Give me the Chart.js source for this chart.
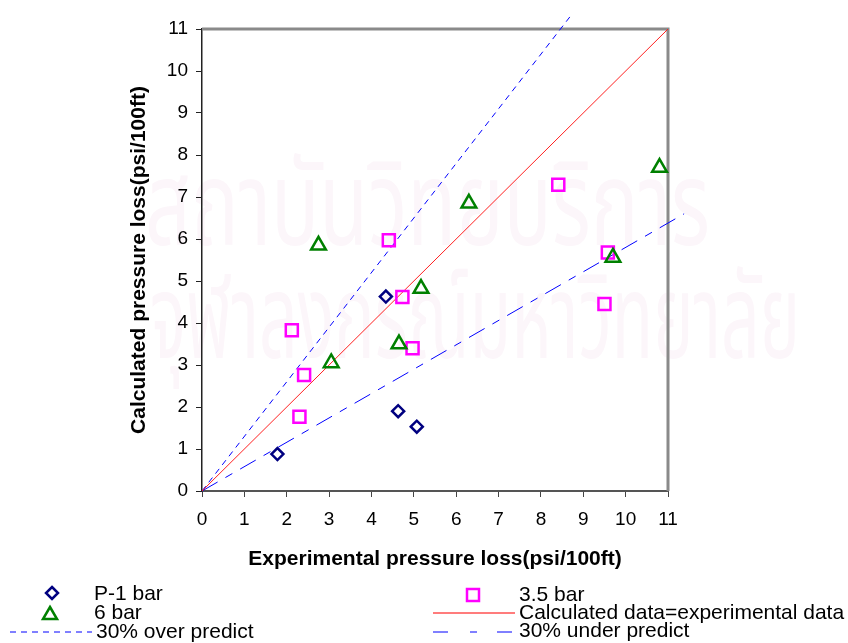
<!DOCTYPE html>
<html>
<head>
<meta charset="utf-8">
<script src="https://cdn.jsdelivr.net/npm/chart.js@4/dist/chart.umd.min.js"></script>
<style>
  html, body { margin: 0; padding: 0; background: #ffffff; }
  #wrap { position: relative; width: 848px; height: 643px; overflow: hidden; }
  #mark { position: absolute; left: 0; top: 0; width: 848px; height: 643px; pointer-events: none; }
  #chart { position: absolute; left: 0; top: 0; }
  #legend { position: absolute; left: 0; top: 0; pointer-events: none; }
</style>
</head>
<body>
<div id="wrap">
  <svg id="mark" width="848" height="643">
    <g fill="#fcf6fa" font-family="'Noto Sans Thai','Noto Sans','DejaVu Sans',sans-serif">
      <text x="145" y="245" font-size="118" textLength="565" lengthAdjust="spacingAndGlyphs">สถาบันวิทยบริการ</text>
      <text x="150" y="358" font-size="118" textLength="650" lengthAdjust="spacingAndGlyphs">จุฬาลงกรณ์มหาวิทยาลัย</text>
    </g>
  </svg>
  <canvas id="chart" width="848" height="643"></canvas>
  <svg id="legend" width="848" height="643" font-family="'Liberation Sans', Arial, sans-serif" font-size="21">
    <!-- left column -->
    <path d="M52 587 L58 593 L52 599 L46 593 Z" fill="none" stroke="#000080" stroke-width="2.5"/>
    <text x="94" y="600">P-1 bar</text>
    <path d="M50 607 L57 619 L43 619 Z" fill="none" stroke="#008000" stroke-width="2.5"/>
    <text x="94" y="619">6 bar</text>
    <line x1="10" y1="632" x2="92" y2="632" stroke="#0000ff" stroke-width="1" stroke-dasharray="6 5"/>
    <text x="96" y="638">30% over predict</text>
    <!-- right column -->
    <rect x="467" y="589" width="12" height="12" fill="none" stroke="#ff00ff" stroke-width="2.5"/>
    <text x="519" y="601">3.5 bar</text>
    <line x1="433" y1="613" x2="515" y2="613" stroke="#ff5050" stroke-width="1.5"/>
    <text x="519" y="619">Calculated data=experimental data</text>
    <line x1="433" y1="632" x2="515" y2="632" stroke="#0000ff" stroke-width="1" stroke-dasharray="15 22 7 20 15"/>
    <text x="519" y="637">30% under predict</text>
  </svg>
</div>
<script>
// Measured points: experimental (x) vs calculated (y) pressure loss, psi/100ft
const p1ExpX = [1.78, 4.63, 5.07, 4.34];
const p1CalcY = [0.88, 1.90, 1.53, 4.63];

const bar35ExpX = [2.12, 2.41, 2.30, 4.41, 4.73, 4.97, 8.41, 9.58, 9.50];
const bar35CalcY = [3.83, 2.76, 1.77, 5.97, 4.62, 3.40, 7.29, 5.68, 4.45];

const bar6ExpX = [2.75, 3.05, 4.65, 5.17, 6.30, 9.70, 10.80];
const bar6CalcY = [5.85, 3.05, 3.50, 4.82, 6.85, 5.56, 7.70];

// Reference lines
const equalX = [0, 11];
const equalY = [0, 11];
const overX = [0, 8.75];
const overY = [0, 11.375];
const underX = [0, 11.38];
const underY = [0, 6.6];

const axisTicks = [0, 1, 2, 3, 4, 5, 6, 7, 8, 9, 10, 11];

const pts = (xs, ys) => xs.map((x, i) => ({ x: x, y: ys[i] }));

const FONT = "'Liberation Sans', Arial, sans-serif";

// Gray frame on the top and right of the plot area
const framePlugin = {
  id: 'frame',
  beforeDatasetsDraw(chart) {
    const { ctx, chartArea: a } = chart;
    ctx.save();
    ctx.strokeStyle = '#8a8a8a';
    ctx.lineWidth = 3;
    ctx.beginPath();
    ctx.moveTo(a.left, a.top);
    ctx.lineTo(a.right, a.top);
    ctx.lineTo(a.right, a.bottom);
    ctx.stroke();
    ctx.restore();
  }
};

new Chart(document.getElementById('chart'), {
  type: 'scatter',
  data: {
    datasets: [
      {
        label: '6 bar',
        data: pts(bar6ExpX, bar6CalcY),
        pointStyle: 'triangle',
        pointRadius: 8.5,
        pointBorderWidth: 2.5,
        borderColor: '#008000',
        backgroundColor: 'rgba(0,0,0,0)',
        order: 1,
        clip: false
      },
      {
        label: 'P-1 bar',
        data: pts(p1ExpX, p1CalcY),
        pointStyle: 'rectRot',
        pointRadius: 6,
        pointBorderWidth: 2.5,
        borderColor: '#000080',
        backgroundColor: 'rgba(0,0,0,0)',
        order: 2,
        clip: false
      },
      {
        label: '3.5 bar',
        data: pts(bar35ExpX, bar35CalcY),
        pointStyle: 'rect',
        pointRadius: 8.5,
        pointBorderWidth: 2.5,
        borderColor: '#ff00ff',
        backgroundColor: 'rgba(0,0,0,0)',
        order: 3,
        clip: false
      },
      {
        label: 'Calculated data=experimental data',
        data: pts(equalX, equalY),
        showLine: true,
        pointRadius: 0,
        borderColor: '#ff2020',
        borderWidth: 1,
        order: 10,
        clip: false
      },
      {
        label: '30% over predict',
        data: pts(overX, overY),
        showLine: true,
        pointRadius: 0,
        borderColor: '#0000ff',
        borderWidth: 1,
        borderDash: [6, 5],
        order: 11,
        clip: false
      },
      {
        label: '30% under predict',
        data: pts(underX, underY),
        showLine: true,
        pointRadius: 0,
        borderColor: '#0000ff',
        borderWidth: 1,
        borderDash: [18, 9, 8, 9],
        order: 12,
        clip: false
      }
    ]
  },
  options: {
    responsive: false,
    animation: false,
    devicePixelRatio: 1,
    layout: { padding: { left: 0, top: 29, right: 180, bottom: 0 } },
    plugins: {
      legend: { display: false },
      tooltip: { enabled: false }
    },
    scales: {
      x: {
        type: 'linear',
        min: 0,
        max: 11,
        afterBuildTicks(scale) { scale.ticks = axisTicks.map(v => ({ value: v })); },
        afterFit(scale) { scale.height = 152; },
        grid: { drawOnChartArea: false, drawTicks: true, tickLength: 6, tickColor: '#444' },
        border: { display: true, color: '#555', width: 2 },
        ticks: { color: '#000', padding: 11, maxRotation: 0, font: { family: FONT, size: 19 } },
        title: {
          display: true,
          text: 'Experimental pressure loss(psi/100ft)',
          color: '#000',
          font: { family: FONT, size: 21, weight: 'bold' },
          padding: { top: 0, bottom: 71 }
        }
      },
      y: {
        type: 'linear',
        min: 0,
        max: 11,
        afterBuildTicks(scale) { scale.ticks = axisTicks.map(v => ({ value: v })); },
        afterFit(scale) { scale.width = 202; },
        grid: { drawOnChartArea: false, drawTicks: true, tickLength: 6, tickColor: '#222' },
        border: { display: true, color: '#222', width: 1.5 },
        ticks: { color: '#000', padding: 8, font: { family: FONT, size: 19 } },
        title: {
          display: true,
          text: 'Calculated pressure loss(psi/100ft)',
          color: '#000',
          font: { family: FONT, size: 21, weight: 'bold' },
          padding: { top: 127, bottom: 0 }
        }
      }
    }
  },
  plugins: [framePlugin]
});
</script>
</body>
</html>
